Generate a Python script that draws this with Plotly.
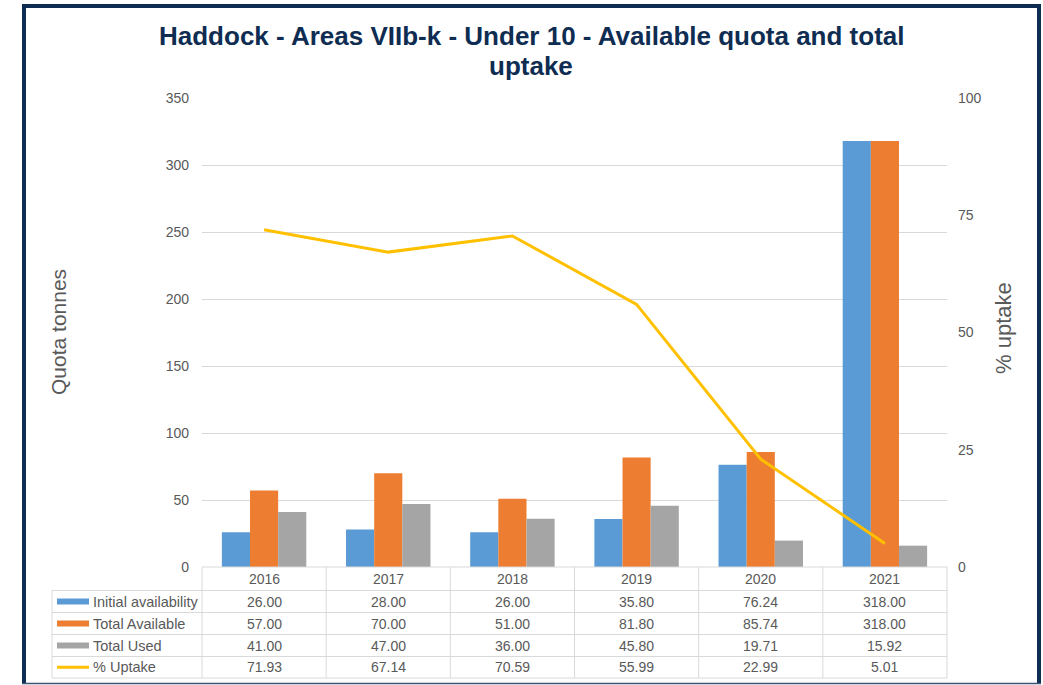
import plotly.graph_objects as go

years = ['2016', '2017', '2018', '2019', '2020', '2021']
initial_availability = [26.00, 28.00, 26.00, 35.80, 76.24, 318.00]
total_available = [57.00, 70.00, 51.00, 81.80, 85.74, 318.00]
total_used = [41.00, 47.00, 36.00, 45.80, 19.71, 15.92]
pct_uptake = [71.93, 67.14, 70.59, 55.99, 22.99, 5.01]

series_names = ['Initial availability', 'Total Available', 'Total Used', '% Uptake']
colors = ['#5B9BD5', '#ED7D31', '#A5A5A5', '#FFC000']

W, H = 1043, 685
def px(x):
    return x / W
def py(y):
    return 1 - y / H

NAVY = '#0F2D52'
GRID = '#D9D9D9'
TXT = '#595959'
FONT = 'Liberation Sans, Arial, sans-serif'

fig = go.Figure()
for name, vals, col in zip(series_names[:3], [initial_availability, total_available, total_used], colors[:3]):
    fig.add_trace(go.Bar(x=years, y=vals, name=name, marker=dict(color=col, line=dict(width=0))))
fig.add_trace(go.Scatter(x=years, y=pct_uptake, name=series_names[3], yaxis='y2', mode='lines',
                         line=dict(color=colors[3], width=3)))

x0, x1 = 202, 947
y_top, y_bot = 98, 567

fig.update_layout(
    width=W, height=H, margin=dict(l=0, r=0, t=0, b=0, pad=0, autoexpand=False),
    paper_bgcolor='white', plot_bgcolor='white',
    showlegend=False, barmode='group', bargap=0.32, bargroupgap=0,
    font=dict(family=FONT, color=TXT, size=14),
    xaxis=dict(domain=[px(x0), px(x1)], range=[-0.5, 5.5], showticklabels=False, showline=False,
               showgrid=False, zeroline=False, ticks='', automargin=False),
    yaxis=dict(domain=[py(y_bot), py(y_top)], range=[0, 350], dtick=50, showgrid=True, gridcolor=GRID,
               gridwidth=1, zeroline=False, showline=False, ticks='', tickfont=dict(size=14, color=TXT),
               ticklabelstandoff=12, automargin=False),
    yaxis2=dict(overlaying='y', side='right', range=[0, 100], dtick=25, showgrid=False, zeroline=False,
                showline=False, ticks='', tickfont=dict(size=14, color=TXT), ticklabelstandoff=10,
                automargin=False),
)

shapes = []
annotations = []

# Frame
shapes.append(dict(type='line', xref='paper', yref='paper', x0=px(24), x1=px(24), y0=py(4), y1=py(684),
                   line=dict(color=NAVY, width=4)))
shapes.append(dict(type='line', xref='paper', yref='paper', x0=px(22), x1=px(1041), y0=py(6), y1=py(6),
                   line=dict(color=NAVY, width=4)))
shapes.append(dict(type='line', xref='paper', yref='paper', x0=px(1039), x1=px(1039), y0=py(4), y1=py(684),
                   line=dict(color=NAVY, width=4)))
shapes.append(dict(type='line', xref='paper', yref='paper', x0=px(22), x1=px(1041), y0=py(683.5), y1=py(683.5),
                   line=dict(color='#3A5578', width=1.5)))

# Table
row_y = [567, 590.5, 612.5, 634.5, 656.5, 678]
col_w = (x1 - x0) / len(years)
col_x = [x0 + i * col_w for i in range(len(years) + 1)]
tleft = 52
lc = dict(color=GRID, width=1)
shapes.append(dict(type='line', xref='paper', yref='paper', x0=px(x0), x1=px(x1), y0=py(row_y[0]), y1=py(row_y[0]), line=lc))
for yy in row_y[1:]:
    shapes.append(dict(type='line', xref='paper', yref='paper', x0=px(tleft), x1=px(x1), y0=py(yy), y1=py(yy), line=lc))
for xx in col_x:
    shapes.append(dict(type='line', xref='paper', yref='paper', x0=px(xx), x1=px(xx), y0=py(row_y[0]), y1=py(row_y[-1]), line=lc))
shapes.append(dict(type='line', xref='paper', yref='paper', x0=px(tleft), x1=px(tleft), y0=py(row_y[1]), y1=py(row_y[-1]), line=lc))

# Header
for i, yr in enumerate(years):
    annotations.append(dict(xref='paper', yref='paper', x=px((col_x[i] + col_x[i + 1]) / 2),
                            y=py((row_y[0] + row_y[1]) / 2), text=yr, showarrow=False,
                            font=dict(size=14, color=TXT), xanchor='center', yanchor='middle'))
all_vals = [initial_availability, total_available, total_used, pct_uptake]
for r, (name, vals, col) in enumerate(zip(series_names, all_vals, colors)):
    yc = (row_y[r + 1] + row_y[r + 2]) / 2
    if r < 3:
        shapes.append(dict(type='rect', xref='paper', yref='paper', x0=px(57), x1=px(89), y0=py(yc - 3), y1=py(yc + 3),
                           fillcolor=col, line=dict(width=0)))
    else:
        shapes.append(dict(type='line', xref='paper', yref='paper', x0=px(57), x1=px(89), y0=py(yc), y1=py(yc),
                           line=dict(color=col, width=3)))
    annotations.append(dict(xref='paper', yref='paper', x=px(91), y=py(yc), text=name, showarrow=False,
                            font=dict(size=14.5, color=TXT), xanchor='left', yanchor='middle'))
    for i, v in enumerate(vals):
        annotations.append(dict(xref='paper', yref='paper', x=px((col_x[i] + col_x[i + 1]) / 2), y=py(yc),
                                text=f'{v:.2f}', showarrow=False, font=dict(size=14, color=TXT),
                                xanchor='center', yanchor='middle'))

# Titles
annotations.append(dict(xref='paper', yref='paper', x=px(531), y=py(36), showarrow=False,
                        text='<b>Haddock - Areas VIIb-k - Under 10 - Available quota and total</b>',
                        font=dict(size=26, color=NAVY), xanchor='center', yanchor='middle'))
annotations.append(dict(xref='paper', yref='paper', x=px(531), y=py(66), showarrow=False, text='<b>uptake</b>',
                        font=dict(size=26, color=NAVY), xanchor='center', yanchor='middle'))
annotations.append(dict(xref='paper', yref='paper', x=px(59), y=py(332), showarrow=False, text='Quota tonnes',
                        textangle=-90, font=dict(size=21, color=TXT), xanchor='center', yanchor='middle'))
annotations.append(dict(xref='paper', yref='paper', x=px(1003), y=py(328), showarrow=False, text='% uptake',
                        textangle=-90, font=dict(size=22, color=TXT), xanchor='center', yanchor='middle'))

fig.update_layout(shapes=shapes, annotations=annotations)
fig.write_html('out.html', config={'displayModeBar': False},
               post_script="document.body.style.margin='0';document.body.style.overflow='hidden';")
